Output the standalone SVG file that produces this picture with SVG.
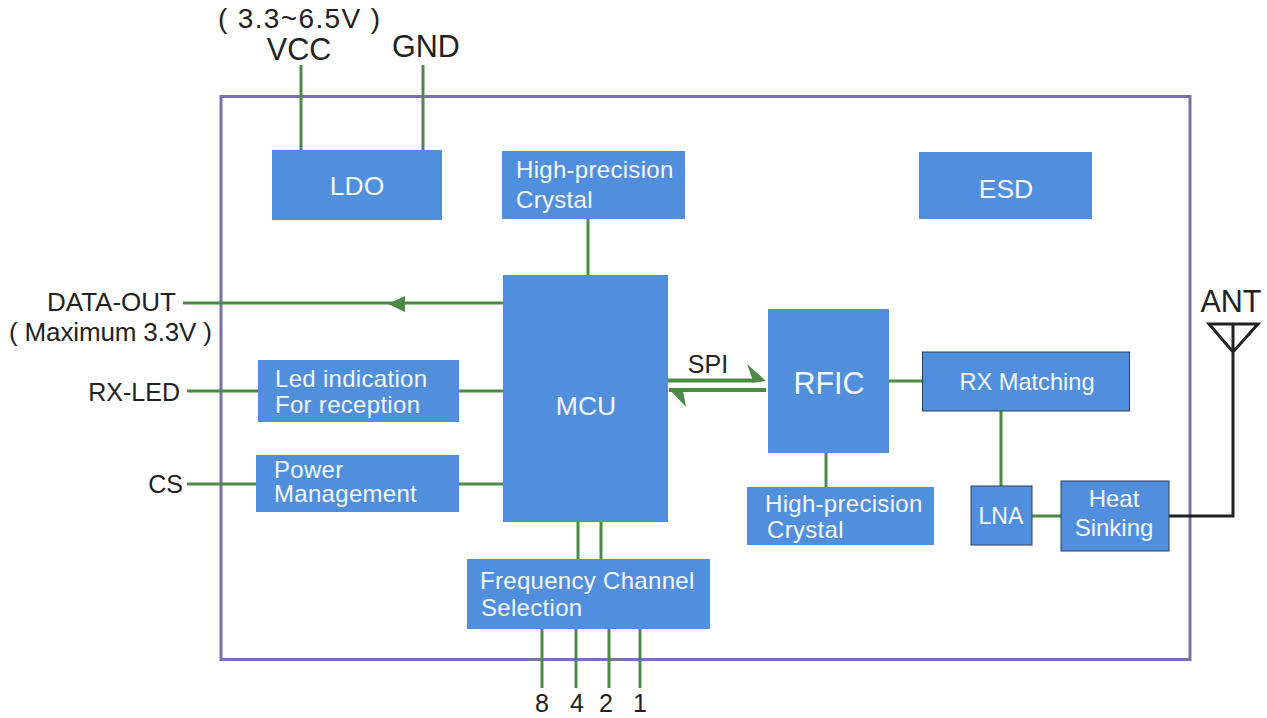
<svg xmlns="http://www.w3.org/2000/svg" width="1267" height="718" viewBox="0 0 1267 718">
<style>
text{font-family:"Liberation Sans",Arial,sans-serif}
.b{fill:#518fdc}
.d{fill:#518fdc;stroke:#2a3f66;stroke-width:1}
.w{fill:#f4f8fd;font-size:24px;letter-spacing:.3px}
.t{fill:#f4f8fd;font-size:24px}
.c{fill:#f4f8fd;font-size:26.500px}
.k{fill:#222;font-size:25px}
.l{fill:#222;font-size:26px}
.x{fill:#222;font-size:30.500px}
.g{fill:none;stroke:#4c8a46;stroke-width:3}
.s{fill:none;stroke:#4c8a46;stroke-width:4}
.h{fill:#4c8a46;stroke:none}
.n{fill:none;stroke:#222;stroke-width:3}
</style>
<rect id="frame" x="221" y="96.500" width="969" height="563" fill="none" stroke="#7a70ac" stroke-width="3"/>
<g id="connectors">
<path class="g" d="M301 65V151M423 65V151M588 219V276M183 303H503M187 391H259M459 391H503M187 484H257M459 484H503M578 522V559M601 522V559M542 629V688M576 629V688M609 629V688M640 629V688M889 381H923M826 453V488M1001 411V486M1032 516H1061"/>
<path class="h" d="M388 304L405 296V312Z"/>
<path class="s" d="M668 380.500H752M669 390H766"/>
<path class="h" d="M766 381L747 364L752 378V383Z"/>
<path class="h" d="M669 389L686 407L683 391Z"/>
<path class="n" d="M1169 516H1233V352M1209 324H1258L1233 352ZM1233 324V352"/>
</g>
<g id="ldo"><rect class="b" x="272" y="150" width="170" height="70"/><text class="c" x="357" y="195" text-anchor="middle">LDO</text></g>
<g id="crystal1"><rect class="b" x="502" y="151" width="183" height="68"/><text class="w" x="516" y="178">High-precision</text><text class="w" x="516" y="208">Crystal</text></g>
<g id="esd"><rect class="b" x="919" y="152" width="173" height="67"/><text class="c" x="1006" y="198" text-anchor="middle">ESD</text></g>
<g id="mcu"><rect class="b" x="503" y="275" width="165" height="247"/><text class="c" x="586" y="415" text-anchor="middle">MCU</text></g>
<g id="led"><rect class="b" x="258" y="360" width="201" height="62"/><text class="w" x="275" y="387">Led indication</text><text class="w" x="275" y="413">For reception</text></g>
<g id="power"><rect class="b" x="256" y="455" width="203" height="57"/><text class="w" x="274" y="478">Power</text><text class="w" x="274" y="502">Management</text></g>
<g id="rfic"><rect class="b" x="768" y="309" width="121" height="144"/><text x="829" y="394" text-anchor="middle" fill="#f4f8fd" font-size="30.500">RFIC</text></g>
<g id="rx"><rect class="d" x="922.500" y="352" width="207" height="59"/><text class="t" x="1027" y="390" text-anchor="middle" textLength="135" lengthAdjust="spacingAndGlyphs">RX Matching</text></g>
<g id="crystal2"><rect class="b" x="747" y="487" width="187" height="58"/><text class="w" x="765" y="512">High-precision</text><text class="w" x="767" y="538">Crystal</text></g>
<g id="lna"><rect class="d" x="971" y="486" width="61" height="59"/><text class="t" x="1001" y="524" text-anchor="middle" textLength="45" lengthAdjust="spacingAndGlyphs">LNA</text></g>
<g id="heat"><rect class="d" x="1061" y="481" width="108" height="70"/><text class="t" x="1114" y="507" text-anchor="middle">Heat</text><text class="t" x="1114" y="536" text-anchor="middle">Sinking</text></g>
<g id="freq"><rect class="b" x="467" y="559" width="243" height="70"/><text class="w" x="480" y="589">Frequency Channel</text><text class="w" x="481" y="616">Selection</text></g>
<g id="labels">
<text class="x" x="299" y="28" text-anchor="middle" style="font-size:28px" textLength="162">( 3.3~6.5V )</text>
<text class="x" x="299" y="60" text-anchor="middle">VCC</text>
<text class="x" x="426" y="57" text-anchor="middle">GND</text>
<text class="l" x="176" y="311" text-anchor="end">DATA-OUT</text>
<text class="l" x="9" y="341" textLength="203">( Maximum 3.3V )</text>
<text class="k" x="180" y="401" text-anchor="end">RX-LED</text>
<text class="k" x="183" y="493" text-anchor="end">CS</text>
<text class="k" x="708" y="373" text-anchor="middle">SPI</text>
<text class="x" x="1231" y="312" text-anchor="middle">ANT</text>
<text class="k" x="542" y="712" text-anchor="middle">8</text>
<text class="k" x="577" y="712" text-anchor="middle">4</text>
<text class="k" x="606" y="712" text-anchor="middle">2</text>
<text class="k" x="640" y="712" text-anchor="middle">1</text>
</g>
</svg>
